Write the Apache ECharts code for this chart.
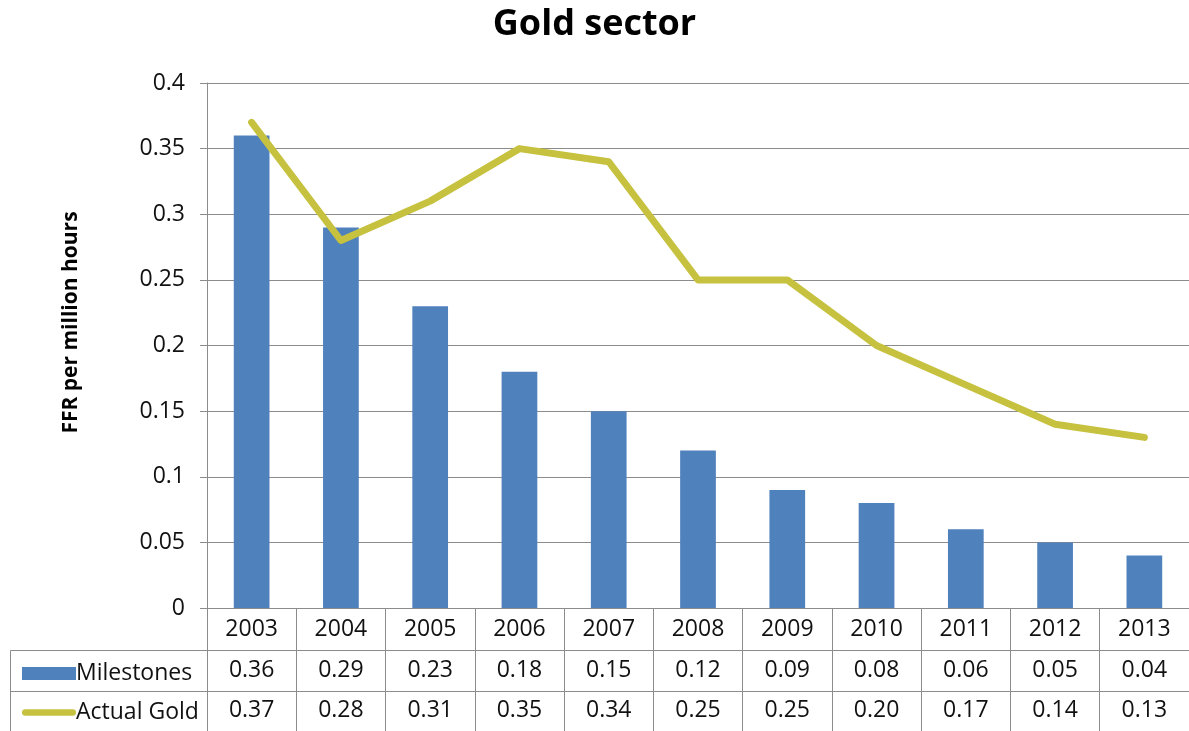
<!DOCTYPE html>
<html>
<head>
<meta charset="utf-8">
<script src="https://cdn.jsdelivr.net/npm/echarts@6/dist/echarts.min.js"></script>
<style>
  html, body { margin: 0; padding: 0; background: #fff; }
  #chart { width: 1189px; height: 731px; }
</style>
</head>
<body>
<div id="chart"></div>
<script>
// Fatality frequency rate per million hours, gold sector
const years = ['2003', '2004', '2005', '2006', '2007', '2008', '2009', '2010', '2011', '2012', '2013'];
const milestones = [0.36, 0.29, 0.23, 0.18, 0.15, 0.12, 0.09, 0.08, 0.06, 0.05, 0.04];
const actualGold = [0.37, 0.28, 0.31, 0.35, 0.34, 0.25, 0.25, 0.20, 0.17, 0.14, 0.13];
const yTicks = { min: 0, max: 0.4, interval: 0.05 };

const FONT = '"Open Sans", "Noto Sans", sans-serif';
const GRID = '#8c8c8c';
const BLUE = '#4f81bd';
const GOLD = '#c6c23f';
const TEXT = '#111';

const chart = echarts.init(document.getElementById('chart'), null, { renderer: 'canvas' });

// value rows of the data table, drawn as extra category axes under the plot
function tableAxis(values, offset, margin) {
  return {
    type: 'category',
    data: years,
    position: 'bottom',
    offset: offset,
    axisLine: { show: true, lineStyle: { color: GRID, width: 1 } },
    axisTick: { show: false },
    axisLabel: {
      margin: margin,
      fontFamily: FONT, fontSize: 23, color: TEXT,
      formatter: (v, i) => values[i].toFixed(2)
    },
    splitLine: { show: false }
  };
}

chart.setOption({
  animation: false,
  title: {
    text: 'Gold sector',
    left: 'center',
    top: 2,
    textStyle: { fontFamily: FONT, fontSize: 36, fontWeight: 'bold', color: '#000' }
  },
  legend: {
    orient: 'vertical',
    left: 17,
    top: 657,
    itemWidth: 54,
    itemHeight: 13,
    itemGap: 16,
    symbolKeepAspect: true,
    data: [
      { name: 'Milestones', icon: 'rect' },
      { name: 'Actual Gold', icon: 'path://M3.5,0 L54.5,0 A3.5,3.5 0 0 1 54.5,7 L3.5,7 A3.5,3.5 0 0 1 3.5,0 Z' }
    ],
    textStyle: { fontFamily: FONT, fontSize: 23, color: TEXT, padding: [0, 0, 0, -5] }
  },
  grid: { left: 207, right: -2, top: 83, bottom: 123, containLabel: false },
  xAxis: [
    {
      type: 'category',
      data: years,
      position: 'bottom',
      axisLine: { show: true, lineStyle: { color: GRID, width: 1 } },
      axisTick: { show: true, length: 123, lineStyle: { color: GRID, width: 1 } },
      axisLabel: { margin: 10, fontFamily: FONT, fontSize: 23, color: TEXT }
    },
    tableAxis(milestones, 42, 9),
    tableAxis(actualGold, 83, 8)
  ],
  yAxis: {
    type: 'value',
    min: yTicks.min,
    max: yTicks.max,
    interval: yTicks.interval,
    name: 'FFR per million hours',
    nameLocation: 'middle',
    nameGap: 125,
    nameTextStyle: {
      fontFamily: FONT, fontSize: 21, fontWeight: 'bold', color: '#000',
      padding: [0, 0, 0, 46]
    },
    axisLine: { show: true, lineStyle: { color: GRID, width: 1 } },
    axisTick: { show: true, length: 7, lineStyle: { color: GRID } },
    axisLabel: { margin: 22, fontFamily: FONT, fontSize: 23, color: TEXT },
    splitLine: { show: true, lineStyle: { color: GRID, width: 1 } }
  },
  series: [
    {
      name: 'Milestones',
      type: 'bar',
      data: milestones,
      barWidth: '40%',
      itemStyle: { color: BLUE }
    },
    {
      name: 'Actual Gold',
      type: 'line',
      data: actualGold,
      symbol: 'none',
      lineStyle: { color: GOLD, width: 7, cap: 'round', join: 'round' },
      itemStyle: { color: GOLD }
    }
  ],
  // borders of the legend cell on the left of the data table
  graphic: [
    {
      type: 'polyline',
      shape: { points: [[207, 650.5], [10.5, 650.5], [10.5, 731]] },
      style: { stroke: GRID, lineWidth: 1, fill: null },
      silent: true
    },
    {
      type: 'line',
      shape: { x1: 10.5, y1: 691.5, x2: 207, y2: 691.5 },
      style: { stroke: GRID, lineWidth: 1 },
      silent: true
    }
  ]
});
</script>
</body>
</html>
